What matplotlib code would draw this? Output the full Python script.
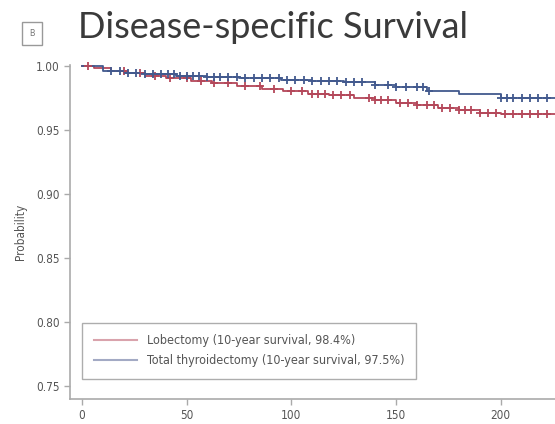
import numpy as np
import matplotlib
matplotlib.use('Agg')
import matplotlib.pyplot as plt

# Kaplan-Meier step data (months, survival probability)
lob_t = [0, 6, 14, 22, 30, 40, 52, 62, 74, 86, 96, 108, 118, 130, 140, 150, 160, 170, 180, 190, 200, 226]
lob_s = [1.0, 0.998, 0.996, 0.994, 0.992, 0.990, 0.988, 0.986, 0.984, 0.982, 0.980,
         0.978, 0.977, 0.975, 0.973, 0.971, 0.969, 0.967, 0.965, 0.963, 0.962, 0.962]
tot_t = [0, 10, 20, 30, 45, 60, 75, 95, 110, 125, 140, 150, 165, 180, 200, 226]
tot_s = [1.0, 0.996, 0.994, 0.993, 0.992, 0.991, 0.990, 0.989, 0.988, 0.987, 0.985,
         0.983, 0.980, 0.978, 0.975, 0.975]

# censored observations
lob_cens = [3, 20, 28, 35, 42, 50, 57, 63, 70, 78, 85, 92, 100, 105, 110, 113, 116, 120,
            124, 128, 137, 140, 143, 146, 152, 156, 160, 165, 168, 172, 176, 180, 183,
            186, 190, 194, 198, 202, 206, 210, 214, 218, 222]
tot_cens = [14, 18, 22, 26, 30, 34, 38, 41, 44, 47, 50, 53, 56, 60, 63, 66, 70, 74, 78,
            82, 86, 90, 94, 98, 102, 106, 110, 114, 118, 122, 126, 130, 134, 140, 146,
            150, 155, 160, 163, 166, 200, 203, 206, 210, 214, 218, 222]

labels = ['Lobectomy (10-year survival, 98.4%)',
          'Total thyroidectomy (10-year survival, 97.5%)']
red = '#b4485a'
blue = '#42598e'


def step_at(t, s, x):
    idx = np.searchsorted(t, x, side='right') - 1
    return np.asarray(s)[idx]


plt.rcParams['font.family'] = ['DejaVu Sans']
plt.rcParams['font.stretch'] = 'condensed'
fig = plt.figure(figsize=(5.55, 4.24), dpi=100, facecolor='w')
ax = fig.add_axes([0.126, 0.059, 0.874, 0.788])

ax.step(lob_t, lob_s, where='post', color=red, lw=1.3)
ax.step(tot_t, tot_s, where='post', color=blue, lw=1.3)
ax.plot(lob_cens, step_at(lob_t, lob_s, lob_cens), '+', color=red, ms=6, mew=1.3, clip_on=False)
ax.plot(tot_cens, step_at(tot_t, tot_s, tot_cens), '+', color=blue, ms=6, mew=1.3, clip_on=False)

# legend handles
ax.plot([], [], color='#d9a3ac', lw=1.5, label=labels[0])
ax.plot([], [], color='#a3aac4', lw=1.5, label=labels[1])
h, l = ax.get_legend_handles_labels()
leg = ax.legend(h, l, loc='lower left', bbox_to_anchor=(0.013, 0.042), fontsize=9,
                frameon=True, fancybox=False, edgecolor='#999999', handlelength=3.5,
                borderpad=0.9, labelspacing=0.6, labelcolor='#555555')
leg.get_frame().set_linewidth(1.0)

ax.set_xlim(-5.7, 226)
ax.set_ylim(0.740, 1.0005)
ax.set_xticks([0, 50, 100, 150, 200])
ax.set_yticks([0.75, 0.80, 0.85, 0.90, 0.95, 1.00])
ax.set_yticklabels(['0.75', '0.80', '0.85', '0.90', '0.95', '1.00'])
ax.set_ylabel('Probability', fontsize=8.5, color='#555555', labelpad=6)
for sp in ['top', 'right']:
    ax.spines[sp].set_visible(False)
for sp in ['left', 'bottom']:
    ax.spines[sp].set_color('#aaaaaa')
    ax.spines[sp].set_linewidth(1.2)
ax.tick_params(colors='#aaaaaa', labelcolor='#555555', labelsize=8.5, length=4, width=1)

# panel header
fig.text(0.14, 0.935, 'Disease-specific Survival', fontsize=26, color='#3a3a3a',
         family=['Lato', 'DejaVu Sans'], fontstretch='normal',
         va='center', ha='left')
fig.text(0.058, 0.921, 'B', fontsize=6.5, color='#777777', va='center', ha='center',
         bbox=dict(boxstyle='square,pad=0.8', fc='w', ec='#999999', lw=1))

fig.savefig('out.png', dpi=100)
